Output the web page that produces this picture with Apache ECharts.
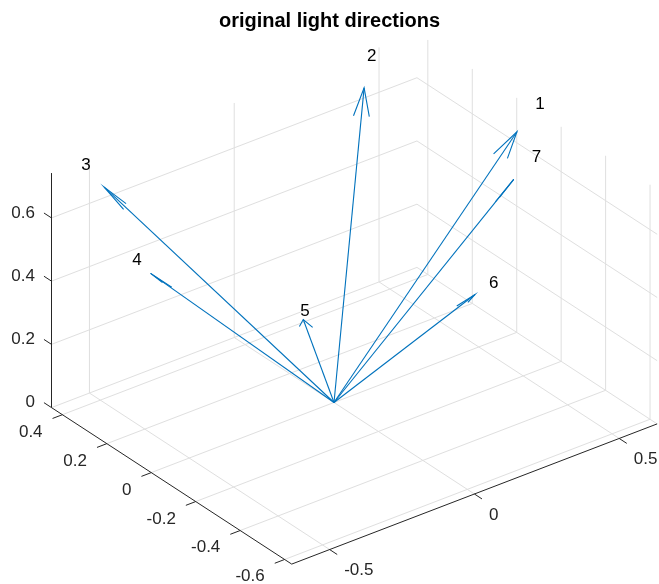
<!DOCTYPE html>
<html><head><meta charset="utf-8">
<script src="https://cdn.jsdelivr.net/npm/echarts@6/dist/echarts.min.js"></script>
<style>html,body{margin:0;padding:0;background:#fff}#c{width:659px;height:584px}</style>
</head><body><div id="c"></div>
<script>
// ---- data: light direction vectors drawn from the origin (quiver3) ----
const lightLabels = ['1', '2', '3', '4', '5', '6', '7'];
const dirX = [0.859, 0.592, -0.417, -0.707, -0.509, -0.064, 0.250];
const dirY = [0.296, 0.636, 0.491, -0.096, -0.525, -0.718, -0.483];
const dirZ = [0.419, 0.496, 0.603, 0.701, 0.682, 0.693, 0.839];
// ---- axes ----
const xTicks = [-0.5, 0, 0.5];
const yTicks = [-0.6, -0.4, -0.2, 0, 0.2, 0.4];
const zTicks = [0, 0.2, 0.4, 0.6];
const xTickLabels = ['-0.5', '0', '0.5'];
const yTickLabels = ['-0.6', '-0.4', '-0.2', '0', '0.2', '0.4'];
const zTickLabels = ['0', '0.2', '0.4', '0.6'];
const xLim = [-0.631, 0.631];
const yLim = [-0.632, 0.449];
const zLim = [0, 0.742];
const titleText = 'original light directions';

// ---- view (MATLAB default 3-D view az=-37.5, el=30) ----
const AZ = -37.5 * Math.PI / 180, EL = 30 * Math.PI / 180;
const ca = Math.cos(AZ), sa = Math.sin(AZ), ce = Math.cos(EL), se = Math.sin(EL);
function proj(x, y, z) {
  return [ca * x + sa * y, -se * sa * x + se * ca * y + ce * z];
}
// projected-plane extent mapped onto the hidden cartesian axes
const PX = 365, OX = 334, OY = 402.5, W = 659, H = 584;
const uMin = -OX / PX, uMax = (W - OX) / PX, wMin = -(H - OY) / PX, wMax = OY / PX;

const FONT = "'Liberation Sans', Arial, Helvetica, sans-serif";
const BLUE = '#0072BD', GRID = '#dfdfdf', AXC = '#262626';
const tickLen = 0.034;

// grid segments
const gridSegs = [];
xTicks.forEach(x => { gridSegs.push([x, yLim[0], 0, x, yLim[1], 0]); gridSegs.push([x, yLim[1], 0, x, yLim[1], zLim[1]]); });
yTicks.forEach(y => { gridSegs.push([xLim[0], y, 0, xLim[1], y, 0]); gridSegs.push([xLim[1], y, 0, xLim[1], y, zLim[1]]); });
zTicks.forEach(z => { gridSegs.push([xLim[0], yLim[1], z, xLim[1], yLim[1], z]); gridSegs.push([xLim[1], yLim[0], z, xLim[1], yLim[1], z]); });

// axis lines and ticks
const axisSegs = [
  [xLim[0], yLim[1], zLim[0], xLim[0], yLim[1], zLim[1]],
  [xLim[0], yLim[0], 0, xLim[0], yLim[1], 0],
  [xLim[0], yLim[0], 0, xLim[1], yLim[0], 0]
];
zTicks.forEach(z => axisSegs.push([xLim[0], yLim[1], z, xLim[0], yLim[1] + tickLen, z]));
yTicks.forEach(y => axisSegs.push([xLim[0], y, 0, xLim[0] - tickLen, y, 0]));
xTicks.forEach(x => axisSegs.push([x, yLim[0], 0, x, yLim[0] - tickLen, 0]));

// tick labels: [x, y, z, kind]
const tickLabelItems = [];
const tickLabelText = [];
zTicks.forEach((z, i) => { tickLabelItems.push([xLim[0], yLim[1] + tickLen, z, 0]); tickLabelText.push(zTickLabels[i]); });
yTicks.forEach((y, i) => { tickLabelItems.push([xLim[0] - tickLen, y, 0, 1]); tickLabelText.push(yTickLabels[i]); });
xTicks.forEach((x, i) => { tickLabelItems.push([x, yLim[0] - tickLen, 0, 2]); tickLabelText.push(xTickLabels[i]); });
const labelFmt = [
  {dx: -9, dy: 0, align: 'right'},
  {dx: -10, dy: 13.5, align: 'right'},
  {dx: 7, dy: 16, align: 'left'}
];

function segRender(color) {
  return function (params, api) {
    const a = api.coord(proj(api.value(0), api.value(1), api.value(2)));
    const b = api.coord(proj(api.value(3), api.value(4), api.value(5)));
    return {type: 'line', shape: {x1: a[0], y1: a[1], x2: b[0], y2: b[1]},
      style: {stroke: color, lineWidth: 1, fill: null}};
  };
}

const quiverData = lightLabels.map((l, i) => [dirX[i], dirY[i], dirZ[i]]);
const ALPHA = 0.09, BETA = 0.278;

const chart = echarts.init(document.getElementById('c'), null, {renderer: 'canvas'});
chart.setOption({
  animation: false,
  backgroundColor: '#ffffff',
  title: {text: titleText, left: 'center', top: 6,
    textStyle: {fontFamily: FONT, fontWeight: 'bold', fontSize: 20, color: '#000'}},
  grid: {left: 0, right: 0, top: 0, bottom: 0},
  xAxis: {type: 'value', min: uMin, max: uMax, show: false},
  yAxis: {type: 'value', min: wMin, max: wMax, show: false},
  series: [
    {type: 'custom', coordinateSystem: 'cartesian2d', silent: true, z: 1,
      data: gridSegs, renderItem: segRender(GRID)},
    {type: 'custom', coordinateSystem: 'cartesian2d', silent: true, z: 2,
      data: axisSegs, renderItem: segRender(AXC)},
    {type: 'custom', coordinateSystem: 'cartesian2d', silent: true, z: 3,
      data: tickLabelItems,
      renderItem: function (params, api) {
        const p = api.coord(proj(api.value(0), api.value(1), api.value(2)));
        const f = labelFmt[api.value(3)];
        return {type: 'text', x: p[0] + f.dx, y: p[1] + f.dy,
          style: {text: tickLabelText[params.dataIndex], fill: AXC, fontSize: 17,
            fontFamily: FONT, align: f.align, verticalAlign: 'middle'}};
      }},
    {type: 'custom', coordinateSystem: 'cartesian2d', silent: true, z: 4,
      data: quiverData,
      renderItem: function (params, api) {
        const u = api.value(0), v = api.value(1), w = api.value(2);
        const o = api.coord(proj(0, 0, 0));
        const t = api.coord(proj(u, v, w));
        const h1 = api.coord(proj(u - ALPHA * (u + BETA * v), v - ALPHA * (v - BETA * u), w - ALPHA * w));
        const h2 = api.coord(proj(u - ALPHA * (u - BETA * v), v - ALPHA * (v + BETA * u), w - ALPHA * w));
        return {type: 'group', children: [
          {type: 'line', shape: {x1: o[0], y1: o[1], x2: t[0], y2: t[1]},
            style: {stroke: BLUE, lineWidth: 1.1, fill: null}},
          {type: 'polyline', shape: {points: [h1, t, h2]},
            style: {stroke: BLUE, lineWidth: 1.1, fill: null}}
        ]};
      }},
    {type: 'custom', coordinateSystem: 'cartesian2d', silent: true, z: 5,
      data: quiverData,
      renderItem: function (params, api) {
        const p = api.coord(proj(1.1 * api.value(0), 1.1 * api.value(1), 1.1 * api.value(2)));
        return {type: 'text', x: p[0], y: p[1],
          style: {text: lightLabels[params.dataIndex], fill: '#000', fontSize: 17,
            fontFamily: FONT, align: 'left', verticalAlign: 'middle'}};
      }}
  ]
});
</script>
</body></html>
